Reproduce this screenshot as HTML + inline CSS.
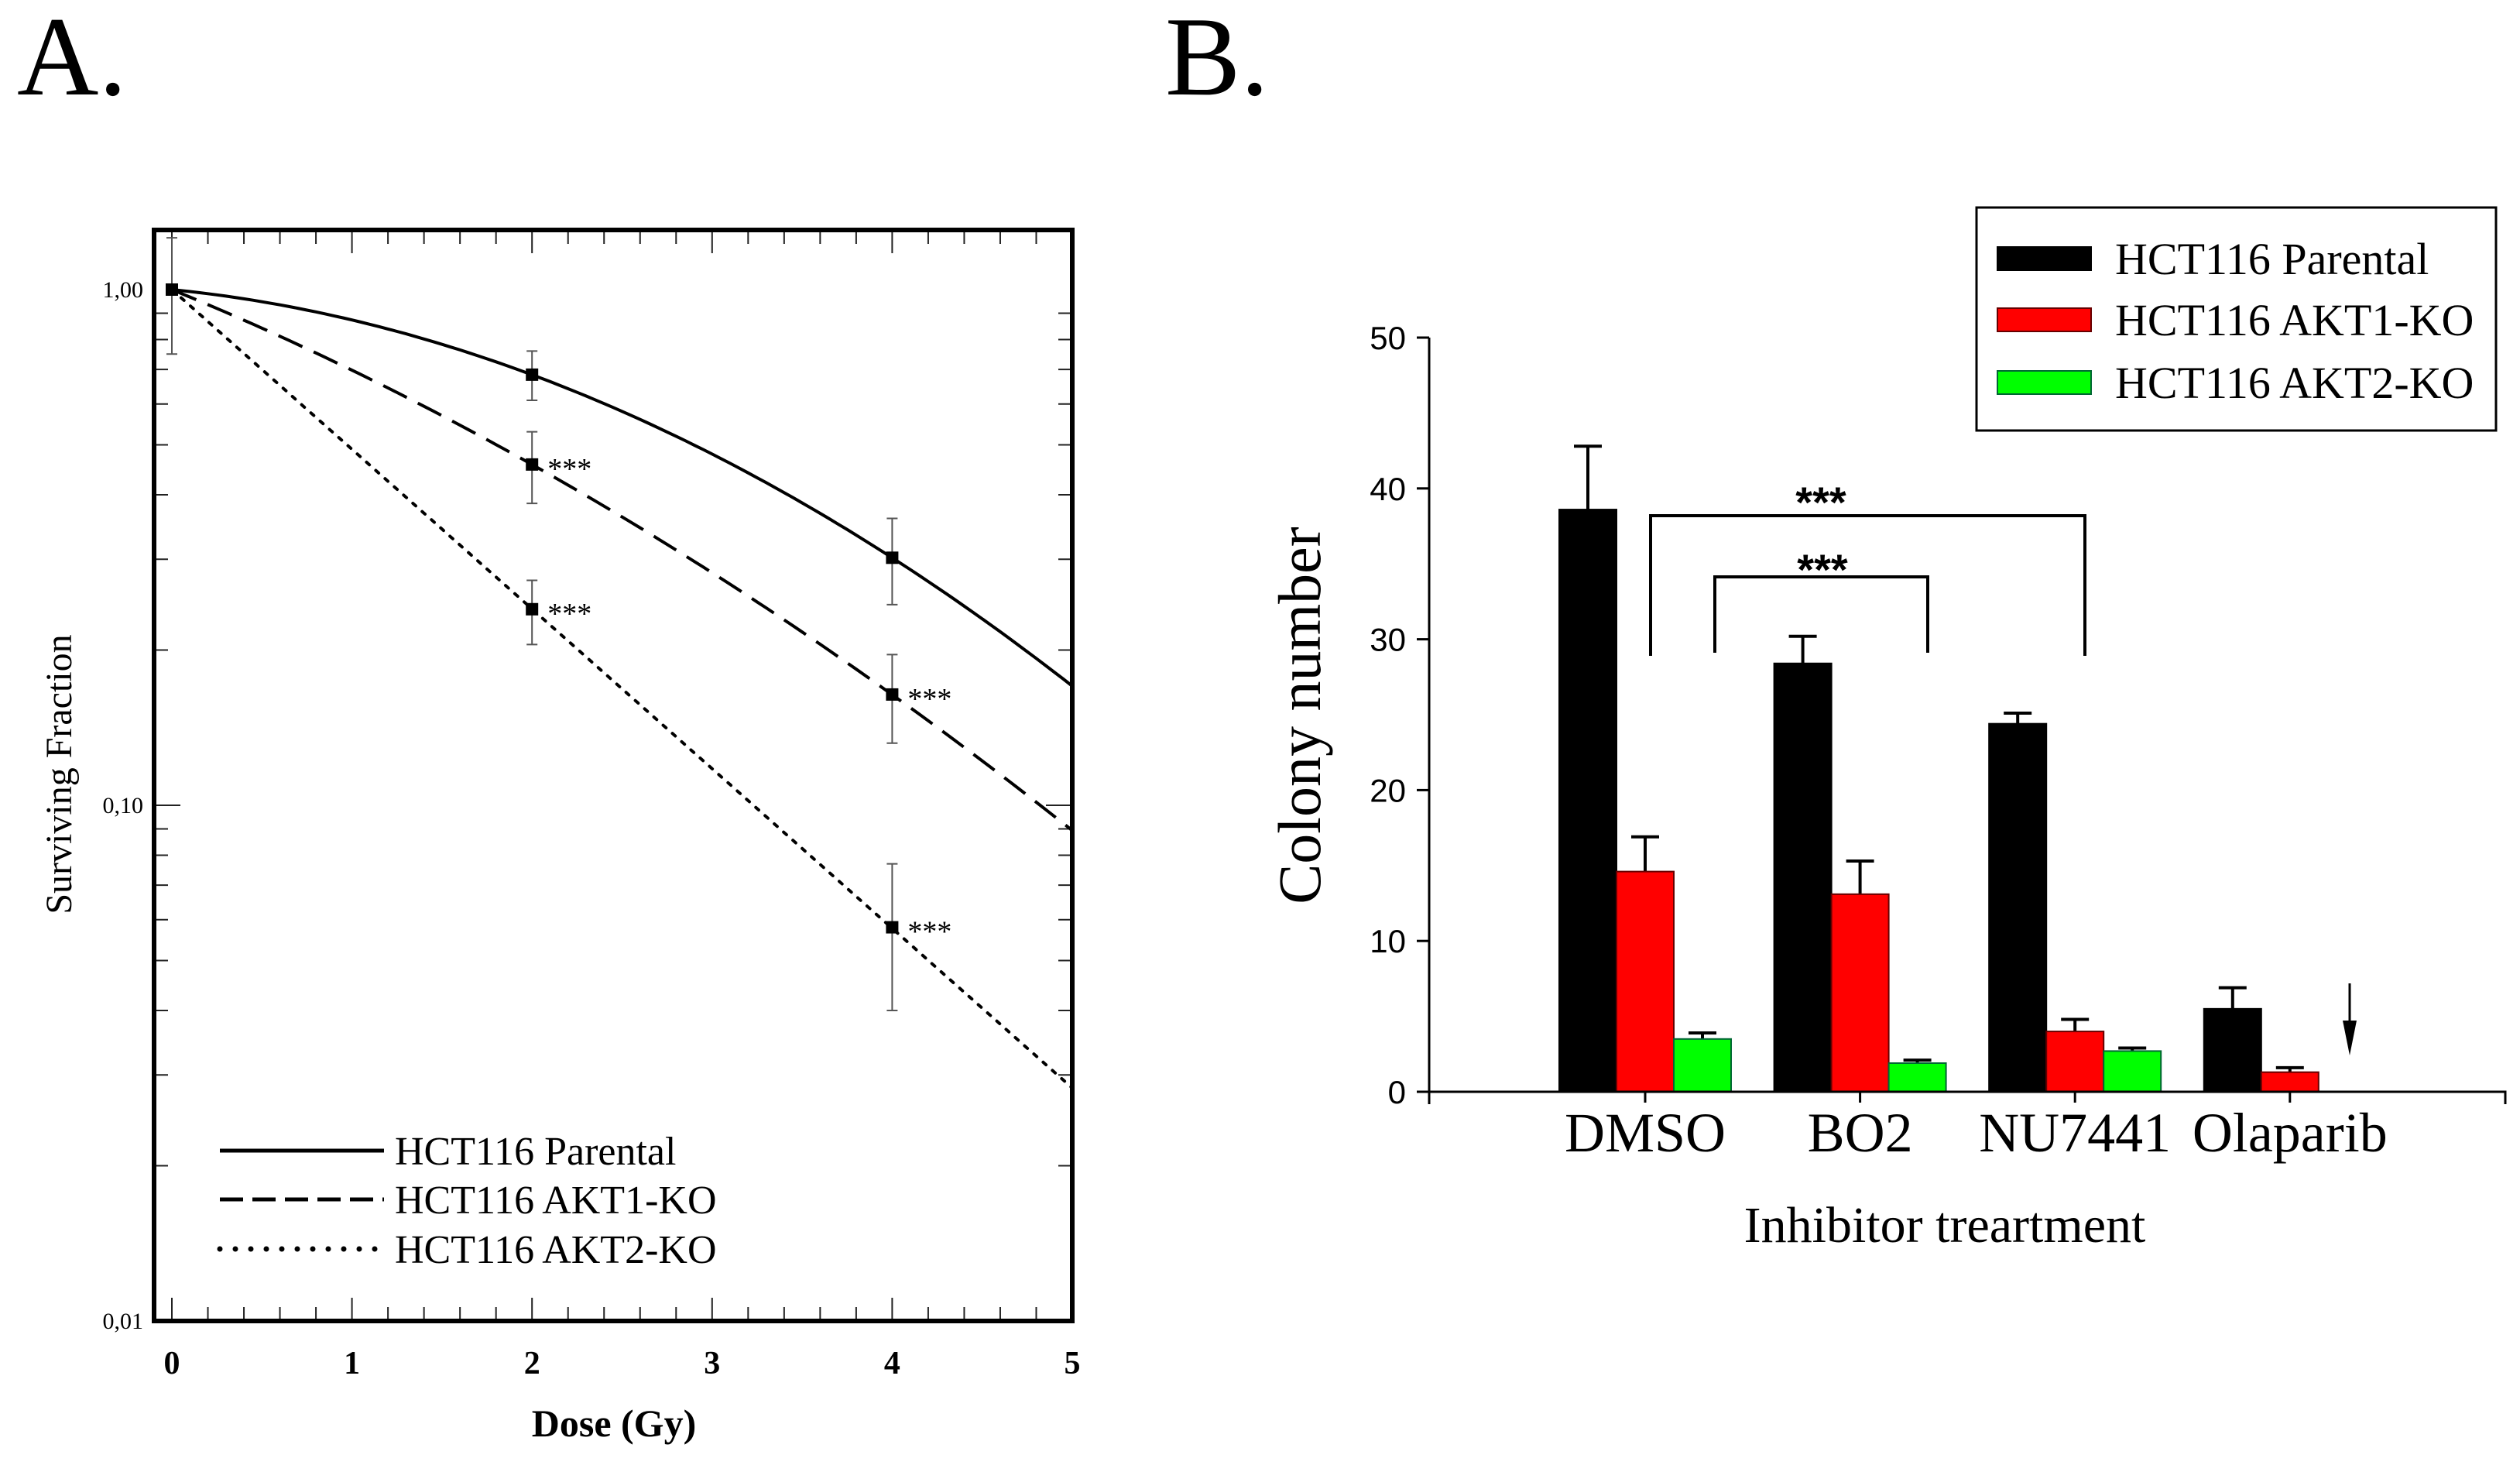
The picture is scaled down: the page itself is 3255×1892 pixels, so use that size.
<!DOCTYPE html>
<html><head><meta charset="utf-8"><style>
html,body{margin:0;padding:0;background:#fff;}
svg{display:block;}
</style></head><body>
<svg id="fig" width="3255" height="1892" viewBox="0 0 3255 1892" xmlns="http://www.w3.org/2000/svg">
<text x="22" y="122" font-family="Liberation Serif, serif" font-size="146">A.</text>
<text x="1505" y="122" font-family="Liberation Serif, serif" font-size="146">B.</text>
<g id="pa"></g>
<g id="pb"></g>
</svg>
<script>
// ---------- Panel A data ----------
const doses = [0, 2, 4];
const seriesNames = ["HCT116 Parental", "HCT116 AKT1-KO", "HCT116 AKT2-KO"];
const parentalSF = [1.0, 0.684, 0.302];
const akt1SF = [1.0, 0.458, 0.164];
const akt2SF = [1.0, 0.240, 0.058];
const parentalHi = [1.26, 0.76, 0.36];
const parentalLo = [0.75, 0.61, 0.245];
const akt1Hi = [null, 0.53, 0.196];
const akt1Lo = [null, 0.385, 0.132];
const akt2Hi = [null, 0.273, 0.077];
const akt2Lo = [null, 0.205, 0.040];
const fitAlpha = [0.081, 0.329, 0.713];
const fitBeta = [0.0546, 0.0308, 0.0];
const doseTicks = [0, 1, 2, 3, 4, 5];
const sfTicks = [1, 0.1, 0.01];
const sfTickLabels = ["1,00", "0,10", "0,01"];
const signifA = [[null, "***", "***"], [null, "***", "***"]];

// ---------- Panel B data ----------
const treatments = ["DMSO", "BO2", "NU7441", "Olaparib"];
const parentalCol = [38.6, 28.4, 24.4, 5.5];
const parentalErr = [4.2, 1.8, 0.7, 1.4];
const akt1Col = [14.6, 13.1, 4.0, 1.3];
const akt1Err = [2.3, 2.2, 0.8, 0.3];
const akt2Col = [3.5, 1.9, 2.7, 0];
const akt2Err = [0.4, 0.2, 0.2, 0];
const colonyTicks = [0, 10, 20, 30, 40, 50];

const NS = "http://www.w3.org/2000/svg";
function mk(parent, tag, attrs, text) {
  const e = document.createElementNS(NS, tag);
  for (const k in attrs) e.setAttribute(k, attrs[k]);
  if (text !== undefined) e.textContent = text;
  parent.appendChild(e);
  return e;
}
const serif = "Liberation Serif, serif";
const sans = "Liberation Sans, sans-serif";

// ---------- Panel A ----------
const pa = document.getElementById('pa');
const AX0 = 222, AXU = 232.6, AY0 = 374, ADEC = 666;
const LEFT = 199, RIGHT = 1385, TOP = 297, BOT = 1706;
const xA = d => AX0 + d * AXU;
const yA = v => AY0 - Math.log10(v) * ADEC;

for (let dec = 0; dec >= -2; dec--) {
  for (let m = 1; m <= 9; m++) {
    const val = m * Math.pow(10, dec - 1);
    if (val > 1.3 || val < 0.01) continue;
    const y = yA(val);
    const major = (m === 1);
    const len = major ? 34 : 18;
    const t1 = mk(pa, 'line', {x1: LEFT, x2: LEFT + len, y1: y, y2: y, stroke: '#222', 'stroke-width': 2});
    
    
    const t2 = mk(pa, 'line', {x1: RIGHT, x2: RIGHT - len, y1: y, y2: y, stroke: '#222', 'stroke-width': 2});
    
    
  }
}
for (let i = 0; i <= 25; i++) {
  const d = i * 0.2;
  const x = xA(d);
  const major = (i % 5 === 0);
  const len = major ? 30 : 18;
  const t1 = mk(pa, 'line', {x1: x, x2: x, y1: BOT, y2: BOT - len, stroke: '#222', 'stroke-width': 2});
  
  
  const t2 = mk(pa, 'line', {x1: x, x2: x, y1: TOP, y2: TOP + len, stroke: '#222', 'stroke-width': 2});
  
  
}
const frame = mk(pa, 'rect', {x: LEFT, y: TOP, width: RIGHT - LEFT, height: BOT - TOP, fill: 'none', stroke: '#000', 'stroke-width': 6});



doseTicks.forEach(d => {
  const t = mk(pa, 'text', {x: xA(d), y: 1774, 'text-anchor': 'middle', 'font-family': serif, 'font-weight': 'bold', 'font-size': 42}, String(d));
  
  
});
sfTicks.forEach((v, i) => {
  const t = mk(pa, 'text', {x: 185, y: yA(v) + 10, 'text-anchor': 'end', 'font-family': serif, 'font-size': 30}, sfTickLabels[i]);
  
  
});
const xt = mk(pa, 'text', {x: 793, y: 1855, 'text-anchor': 'middle', 'font-family': serif, 'font-weight': 'bold', 'font-size': 50}, 'Dose (Gy)');


const yt = mk(pa, 'text', {x: 0, y: 0, transform: 'translate(92,1000) rotate(-90)', 'text-anchor': 'middle', 'font-family': serif, 'font-size': 48}, 'Surviving Fraction');



const dashes = ['none', '34,16', '5,11'];
const sfSeries = [parentalSF, akt1SF, akt2SF];
const hiSeries = [parentalHi, akt1Hi, akt2Hi];
const loSeries = [parentalLo, akt1Lo, akt2Lo];
const curveNames = ['parental-fit-curve', 'akt1-fit-curve', 'akt2-fit-curve'];
for (let s = 0; s < 3; s++) {
  let d = '';
  for (let i = 0; i <= 100; i++) {
    const D = 5 * i / 100;
    const v = Math.exp(-fitAlpha[s] * D - fitBeta[s] * D * D);
    d += (i ? 'L' : 'M') + xA(D).toFixed(1) + ',' + yA(v).toFixed(1);
  }
  const p = mk(pa, 'path', {d: d, fill: 'none', stroke: '#000', 'stroke-width': 4, 'stroke-dasharray': dashes[s], 'stroke-linecap': s === 2 ? 'round' : 'butt'});
  
  
}
for (let s = 0; s < 3; s++) {
  doses.forEach((D, i) => {
    const x = xA(D);
    if (hiSeries[s][i] !== null) {
      const eb = mk(pa, 'path', {d: `M${x},${yA(hiSeries[s][i])}V${yA(loSeries[s][i])}M${x-7},${yA(hiSeries[s][i])}H${x+7}M${x-7},${yA(loSeries[s][i])}H${x+7}`, stroke: '#555', 'stroke-width': 2, fill: 'none'});
      
      
    }
    const m = mk(pa, 'rect', {x: x - 8, y: yA(sfSeries[s][i]) - 8, width: 16, height: 16, fill: '#000'});
    
    
    if (s > 0 && signifA[s - 1][i]) {
      const st = mk(pa, 'text', {x: x + 20, y: yA(sfSeries[s][i]) + 18, 'font-family': serif, 'font-size': 38}, signifA[s - 1][i]);
      
      
    }
  });
}
const legY = [1486, 1549, 1613];
for (let s = 0; s < 3; s++) {
  const l = mk(pa, 'line', {x1: 284, x2: 496, y1: legY[s], y2: legY[s], stroke: '#000', 'stroke-width': s === 2 ? 7 : 5, 'stroke-dasharray': s === 0 ? 'none' : (s === 1 ? '30,12' : '0,20'), 'stroke-linecap': s === 2 ? 'round' : 'butt'});
  
  
  const t = mk(pa, 'text', {x: 510, y: legY[s] + 18, 'font-family': serif, 'font-size': 52}, seriesNames[s]);
  
  
}

// ---------- Panel B ----------
const pb = document.getElementById('pb');
const BX = 1846, BY0 = 1410, BUNIT = 19.48, BRIGHT = 3236;
const yB = v => BY0 - v * BUNIT;
const gC = i => 2125 + i * 277.6;
const BW = 74;
const yax = mk(pb, 'line', {x1: BX, x2: BX, y1: yB(50), y2: BY0 + 16, stroke: '#000', 'stroke-width': 3});


colonyTicks.forEach(v => {
  const t = mk(pb, 'line', {x1: BX - 16, x2: BX, y1: yB(v), y2: yB(v), stroke: '#000', 'stroke-width': 3});
  
  
  const l = mk(pb, 'text', {x: BX - 30, y: yB(v) + 15, 'text-anchor': 'end', 'font-family': sans, 'font-size': 42}, String(v));
  
  
});
const colors = ['#000000', '#ff0000', '#00ff00'];
const strokes = ['#000', '#600', '#063'];
const colSeries = [parentalCol, akt1Col, akt2Col];
const errSeries = [parentalErr, akt1Err, akt2Err];
const barNames = ['bar-parental', 'bar-akt1', 'bar-akt2'];
treatments.forEach((name, i) => {
  for (let s = 0; s < 3; s++) {
    const v = colSeries[s][i];
    if (v <= 0) continue;
    const x = gC(i) - 1.5 * BW + s * BW;
    const e = errSeries[s][i];
    const xc = x + BW / 2;
    const eb = mk(pb, 'path', {d: `M${xc},${yB(v)}V${yB(v + e)}M${xc - 18},${yB(v + e)}H${xc + 18}`, stroke: '#000', 'stroke-width': 4, fill: 'none'});
    
    
    const r = mk(pb, 'rect', {x: x, y: yB(v), width: BW, height: BY0 - yB(v), fill: colors[s], stroke: strokes[s], 'stroke-width': 2});
    
    
  }
  const tk = mk(pb, 'line', {x1: gC(i), x2: gC(i), y1: BY0, y2: BY0 + 14, stroke: '#000', 'stroke-width': 3});
  
  
  const lb = mk(pb, 'text', {x: gC(i), y: 1487, 'text-anchor': 'middle', 'font-family': serif, 'font-size': 72}, name);
  
  
});
const xax = mk(pb, 'path', {d: `M${BX},${BY0}H${BRIGHT}V${BY0 + 16}`, stroke: '#000', 'stroke-width': 3, fill: 'none'});



const arr = mk(pb, 'path', {d: 'M3035,1270V1355', stroke: '#000', 'stroke-width': 3, fill: 'none'});


const ah = mk(pb, 'path', {d: 'M3026,1318L3035,1363L3044,1318Z', fill: '#000'});



const br1 = mk(pb, 'path', {d: 'M2132,847V666H2693V847', stroke: '#000', 'stroke-width': 4, fill: 'none'});


const s1 = mk(pb, 'text', {x: 2352, y: 668, 'text-anchor': 'middle', 'font-family': sans, 'font-weight': 'bold', 'font-size': 56}, '***');


const br2 = mk(pb, 'path', {d: 'M2215,843V745H2490V843', stroke: '#000', 'stroke-width': 4, fill: 'none'});


const s2 = mk(pb, 'text', {x: 2354, y: 755, 'text-anchor': 'middle', 'font-family': sans, 'font-weight': 'bold', 'font-size': 56}, '***');



const bxt = mk(pb, 'text', {x: 2512, y: 1604, 'text-anchor': 'middle', 'font-family': serif, 'font-size': 66}, 'Inhibitor treartment');


const byt = mk(pb, 'text', {x: 0, y: 0, transform: 'translate(1705,924) rotate(-90)', 'text-anchor': 'middle', 'font-family': serif, 'font-size': 78}, 'Colony number');



const lbox = mk(pb, 'rect', {x: 2553, y: 268, width: 671, height: 288, fill: '#fff', stroke: '#000', 'stroke-width': 3});


const lgY = [334, 413, 494];
for (let s = 0; s < 3; s++) {
  const sw = mk(pb, 'rect', {x: 2580, y: lgY[s] - 15, width: 121, height: 30, fill: colors[s], stroke: strokes[s], 'stroke-width': 2});
  
  
  const t = mk(pb, 'text', {x: 2732, y: lgY[s] + 20, 'font-family': serif, 'font-size': 58}, seriesNames[s]);
  
  
}
</script>
</body></html>
